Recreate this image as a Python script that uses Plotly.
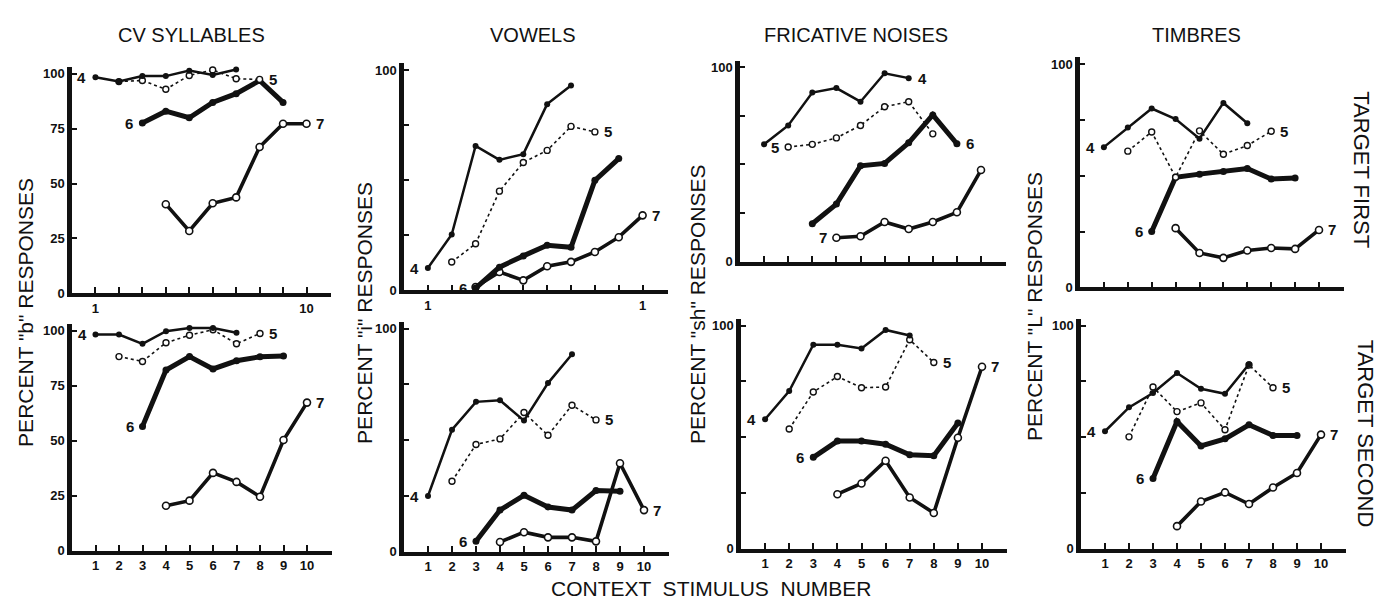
import plotly.graph_objects as go

W, H = 1383, 602

# ---------------- text ----------------
TITLES = ["CV SYLLABLES", "VOWELS", "FRICATIVE NOISES", "TIMBRES"]
YLABELS = ['PERCENT "b" RESPONSES', 'PERCENT "i" RESPONSES',
           'PERCENT "sh" RESPONSES', 'PERCENT "L" RESPONSES']
ROW_LABELS = ["TARGET FIRST", "TARGET SECOND"]
XLABEL = "CONTEXT  STIMULUS  NUMBER"
SERIES = ["4", "5", "6", "7"]

# ---------------- x values (context stimulus number) ----------------
X4 = [1, 2, 3, 4, 5, 6, 7]
X5 = [2, 3, 4, 5, 6, 7, 8]
X6 = [3, 4, 5, 6, 7, 8, 9]
X7 = [4, 5, 6, 7, 8, 9, 10]
X7_VOWELS_FIRST = [3, 4, 5, 6, 7, 8, 9, 10]

# ---------------- data: target first ----------------
CV_FIRST_4 = [98.5, 96.5, 99, 99, 101.5, 99.5, 102]
CV_FIRST_5 = [96.5, 97, 93, 99.3, 101.8, 97.8, 97.5]
CV_FIRST_6 = [77.6, 83, 80, 87, 91, 97, 87]
CV_FIRST_7 = [40.6, 28.4, 41, 43.7, 66.7, 77.3, 77.3]

VOW_FIRST_4 = [10.1, 25.3, 65.5, 59.2, 61.8, 84.5, 93]
VOW_FIRST_5 = [12.8, 21.1, 45, 58, 63.5, 74.4, 71.9]
VOW_FIRST_6 = [1, 10.5, 15.6, 20.4, 19.5, 49.9, 59.8]
VOW_FIRST_7 = [1.5, 8.3, 4.5, 10.9, 12.9, 17.4, 24.1, 34]

FRI_FIRST_4 = [60.3, 70, 86.9, 89.2, 82.2, 96.8, 94.3]
FRI_FIRST_5 = [58.9, 60.3, 63.6, 70, 79.6, 82.2, 65.7]
FRI_FIRST_6 = [19.5, 29.6, 49.3, 50.5, 61.1, 75.4, 60.6]
FRI_FIRST_7 = [12.3, 13.1, 20.4, 16.8, 20.4, 25.4, 47.1]

TIM_FIRST_4 = [62.8, 71.6, 80.1, 75.4, 66.6, 82.6, 73.5]
TIM_FIRST_5 = [61, 69.6, 49.3, 70.1, 59.6, 63.5, 69.9]
TIM_FIRST_6 = [25, 49.3, 50.7, 51.9, 53.2, 48.5, 49]
TIM_FIRST_7 = [26.5, 15.4, 13.2, 16.5, 17.6, 17.2, 25.7]

# ---------------- data: target second ----------------
CV_SECOND_4 = [98.2, 98.2, 94, 99.7, 101.2, 101.2, 99]
CV_SECOND_5 = [88.2, 86, 94.5, 97.9, 100.4, 94, 98.7]
CV_SECOND_6 = [56.5, 82.1, 88.2, 82.6, 86.3, 88.1, 88.5]
CV_SECOND_7 = [20.5, 22.8, 35.4, 31.3, 24.6, 50.3, 67.3]

VOW_SECOND_4 = [25, 54.7, 67.2, 67.9, 58.8, 75.6, 88.5]
VOW_SECOND_5 = [31.6, 48.1, 50.6, 62.4, 52.2, 65.7, 59.1]
VOW_SECOND_6 = [4.7, 18.7, 25.3, 20.1, 18.7, 27.5, 27.2]
VOW_SECOND_7 = [4.4, 8.8, 6.5, 6.5, 4.7, 39.7, 18.7]

FRI_SECOND_4 = [58.1, 70.7, 91.5, 91.5, 89.8, 98.1, 95.6]
FRI_SECOND_5 = [53.7, 70.3, 77.2, 72.2, 72.5, 93.7, 83.5]
FRI_SECOND_6 = [41, 48.3, 48.3, 46.9, 42.2, 41.7, 56.4]
FRI_SECOND_7 = [24.5, 29.3, 39.5, 23, 16.1, 49.8, 81.6]

TIM_SECOND_4 = [52.7, 63.4, 69.8, 78.8, 71.7, 69.5, 82.7]
TIM_SECOND_5 = [50.2, 72.5, 61.5, 65.4, 53.4, 82.4, 72.2]
TIM_SECOND_6 = [31.5, 57.1, 46.1, 49.3, 55.6, 50.8, 50.8]
TIM_SECOND_7 = [10.2, 21.2, 25.3, 20.1, 27.5, 34, 51.2]

PANELS = [
    (0, 0, {"4": (X4, CV_FIRST_4), "5": (X5, CV_FIRST_5), "6": (X6, CV_FIRST_6), "7": (X7, CV_FIRST_7)}),
    (0, 1, {"4": (X4, VOW_FIRST_4), "5": (X5, VOW_FIRST_5), "6": (X6, VOW_FIRST_6), "7": (X7_VOWELS_FIRST, VOW_FIRST_7)}),
    (0, 2, {"4": (X4, FRI_FIRST_4), "5": (X5, FRI_FIRST_5), "6": (X6, FRI_FIRST_6), "7": (X7, FRI_FIRST_7)}),
    (0, 3, {"4": (X4, TIM_FIRST_4), "5": (X5, TIM_FIRST_5), "6": (X6, TIM_FIRST_6), "7": (X7, TIM_FIRST_7)}),
    (1, 0, {"4": (X4, CV_SECOND_4), "5": (X5, CV_SECOND_5), "6": (X6, CV_SECOND_6), "7": (X7, CV_SECOND_7)}),
    (1, 1, {"4": (X4, VOW_SECOND_4), "5": (X5, VOW_SECOND_5), "6": (X6, VOW_SECOND_6), "7": (X7, VOW_SECOND_7)}),
    (1, 2, {"4": (X4, FRI_SECOND_4), "5": (X5, FRI_SECOND_5), "6": (X6, FRI_SECOND_6), "7": (X7, FRI_SECOND_7)}),
    (1, 3, {"4": (X4, TIM_SECOND_4), "5": (X5, TIM_SECOND_5), "6": (X6, TIM_SECOND_6), "7": (X7, TIM_SECOND_7)}),
]

# pixel geometry of each panel: x of y-axis, px per x unit, y of zero line, y of 100 line
GEOM = {
    (0, 0): (64, 23.45, 288, 65),
    (0, 1): (396, 23.86, 285, 61),
    (0, 2): (732, 24.1, 256, 58),
    (0, 3): (1072, 23.9, 282, 55),
    (1, 0): (64, 23.5, 550, 326),
    (1, 1): (396, 24.0, 551, 324),
    (1, 2): (733, 24.1, 548, 321),
    (1, 3): (1073, 24.0, 548, 321),
}

XMAX = 11.05
YMAX = 103

DEFAULT_SIDES = {"4": "start", "5": "end", "6": "start", "7": "end"}
FRIC_FIRST_SIDES = {"4": "end", "5": "start", "6": "end", "7": "start"}

STYLE = {
    "4": dict(line=dict(color="#111", width=2.5), marker=dict(symbol="circle", size=6, color="#111")),
    "5": dict(line=dict(color="#111", width=1.6, dash="dot"),
              marker=dict(symbol="circle", size=6, color="white", line=dict(color="#111", width=1.4))),
    "6": dict(line=dict(color="#111", width=5), marker=dict(symbol="circle", size=7, color="#111")),
    "7": dict(line=dict(color="#111", width=3.6),
              marker=dict(symbol="circle", size=7, color="white", line=dict(color="#111", width=1.6))),
}

FONT = "Liberation Sans"
TICKFONT = dict(family=FONT, size=13, color="#111", weight="bold")

fig = go.Figure()
annotations = []
layout = {}

for idx, (row, col, series) in enumerate(PANELS):
    n = idx + 1
    xa = "xaxis" if n == 1 else f"xaxis{n}"
    ya = "yaxis" if n == 1 else f"yaxis{n}"
    xr = "x" if n == 1 else f"x{n}"
    yr = "y" if n == 1 else f"y{n}"
    x0, sp, y0, y100 = GEOM[(row, col)]
    ppu = (y0 - y100) / 100.0
    xdom = [x0 / W, (x0 + XMAX * sp) / W]
    ydom = [1 - y0 / H, 1 - (y0 - YMAX * ppu) / H]

    if row == 1:
        xtext = [str(i) for i in range(1, 11)]
    elif col == 0:
        xtext = ["1"] + [""] * 8 + ["10"]
    elif col == 1:
        xtext = ["1"] + [""] * 8 + ["1"]
    else:
        xtext = [""] * 10
    if col == 0:
        ytext = ["0", "25", "50", "75", "100"]
    else:
        ytext = ["0", "", "", "", "100"]

    layout[xa] = dict(domain=xdom, range=[0, XMAX], anchor=yr, showgrid=False, zeroline=False,
                      showline=True, linecolor="#111", linewidth=3.5,
                      tickmode="array", tickvals=list(range(1, 11)), ticktext=xtext,
                      ticks="inside", ticklen=6, tickwidth=1.6, tickcolor="#111",
                      tickfont=TICKFONT, fixedrange=True)
    layout[ya] = dict(domain=ydom, range=[0, YMAX], anchor=xr, showgrid=False, zeroline=False,
                      showline=True, linecolor="#111", linewidth=4.5,
                      tickmode="array", tickvals=[0, 25, 50, 75, 100], ticktext=ytext,
                      ticks="inside", ticklen=5, tickwidth=1.6, tickcolor="#111",
                      tickfont=TICKFONT, fixedrange=True)

    sides = FRIC_FIRST_SIDES if (row, col) == (0, 2) else DEFAULT_SIDES
    for s in ["7", "6", "5", "4"]:
        xs, ys = series[s]
        st = STYLE[s]
        fig.add_trace(go.Scatter(x=xs, y=ys, mode="lines+markers", xaxis=xr, yaxis=yr,
                                 line=st["line"], marker=st["marker"], cliponaxis=False,
                                 showlegend=False, hoverinfo="x+y"))
        if sides[s] == "start":
            lx, ly, shift, anc = xs[0], ys[0], -7, "right"
        else:
            lx, ly, shift, anc = xs[-1], ys[-1], 7, "left"
        annotations.append(dict(x=lx, y=ly, xref=xr, yref=yr, text=s, showarrow=False,
                                xshift=shift, xanchor=anc, yanchor="middle",
                                font=dict(family=FONT, size=15, color="#111", weight="bold")))

# column titles
TITLE_X = [183, 525, 848, 1188]
for t, cx in zip(TITLES, TITLE_X):
    annotations.append(dict(x=cx / W, y=1 - 25 / H, xref="paper", yref="paper", text=t,
                            showarrow=False, xanchor="center", yanchor="middle",
                            font=dict(family=FONT, size=20, color="#111")))

# y labels
YL_X = [18, 357, 689, 1027]
YL_Y = [308, 308, 300, 302]
for t, cx, cy in zip(YLABELS, YL_X, YL_Y):
    annotations.append(dict(x=cx / W, y=1 - cy / H, xref="paper", yref="paper", text=t,
                            showarrow=False, textangle=-90, xanchor="center", yanchor="middle",
                            font=dict(family=FONT, size=21, color="#111")))

# row labels
annotations.append(dict(x=1354 / W, y=1 - 162 / H, xref="paper", yref="paper", text=ROW_LABELS[0],
                        showarrow=False, textangle=90, xanchor="center", yanchor="middle",
                        font=dict(family=FONT, size=22, color="#111")))
annotations.append(dict(x=1357 / W, y=1 - 430 / H, xref="paper", yref="paper", text=ROW_LABELS[1],
                        showarrow=False, textangle=90, xanchor="center", yanchor="middle",
                        font=dict(family=FONT, size=22, color="#111")))

# x label
annotations.append(dict(x=703 / W, y=1 - 588 / H, xref="paper", yref="paper", text=XLABEL,
                        showarrow=False, xanchor="center", yanchor="middle",
                        font=dict(family=FONT, size=21, color="#111")))

fig.update_layout(width=W, height=H, margin=dict(l=0, r=0, t=0, b=0),
                  paper_bgcolor="white", plot_bgcolor="white",
                  annotations=annotations, showlegend=False, **layout)

fig.write_html("out.html")
